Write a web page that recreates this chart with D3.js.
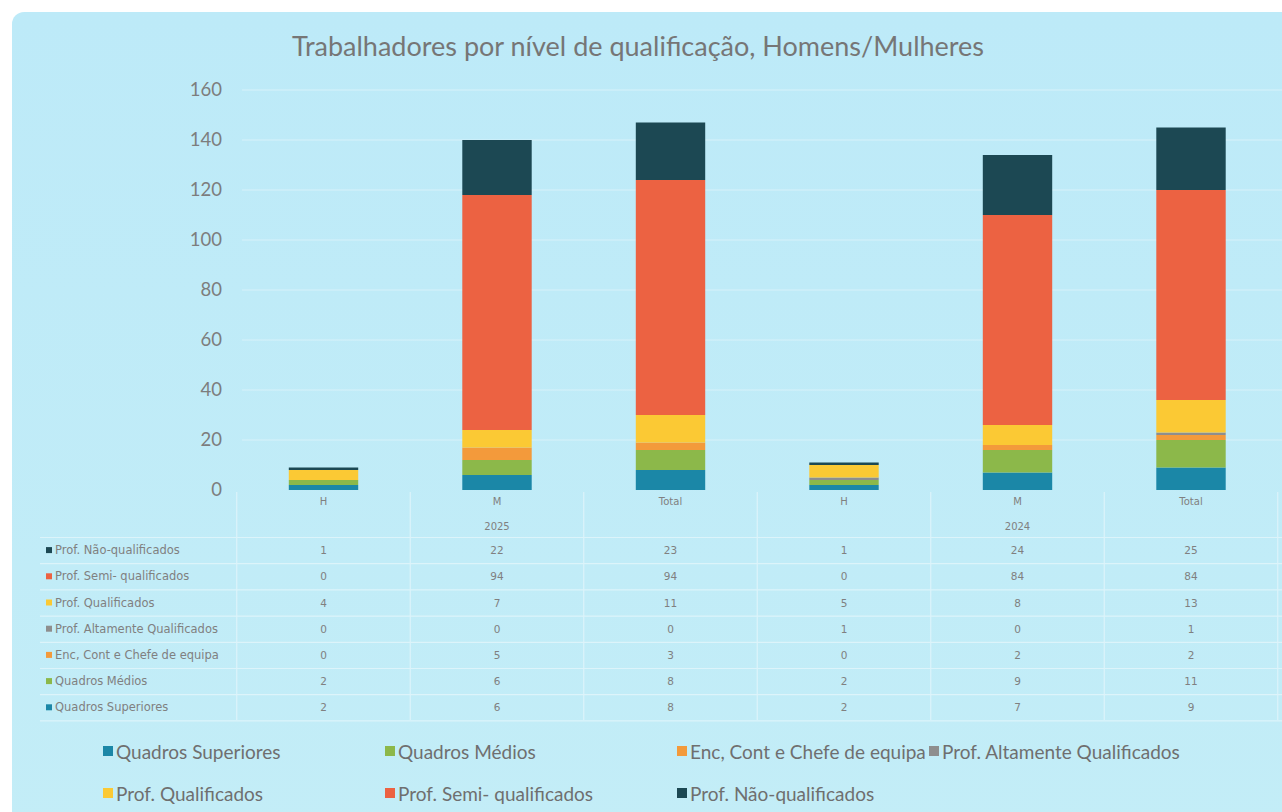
<!DOCTYPE html>
<html><head><meta charset="utf-8">
<script src="https://cdn.jsdelivr.net/npm/d3@7"></script>
<style>html,body{margin:0;padding:0;background:#fff;}svg{display:block;}</style>
</head><body>
<script>
// ---- data ----
const categories = ["H","M","Total","H","M","Total"];
const years = ["2025","2024"];
const seriesNames = ["Quadros Superiores","Quadros Médios","Enc, Cont e Chefe de equipa","Prof. Altamente Qualificados","Prof. Qualificados","Prof. Semi- qualificados","Prof. Não-qualificados"];
const quadrosSuperiores = [2,6,8,2,7,9];
const quadrosMedios     = [2,6,8,2,9,11];
const encCont           = [0,5,3,0,2,2];
const profAltamente     = [0,0,0,1,0,1];
const profQualificados  = [4,7,11,5,8,13];
const profSemi          = [0,94,94,0,84,84];
const profNao           = [1,22,23,1,24,25];
const yTicks = [0,20,40,60,80,100,120,140,160];
const seriesColors = ["#1b87a7","#8cb84a","#f39a3b","#8e8e8e","#fbc934","#ec6242","#1c4853"];

const values = [quadrosSuperiores,quadrosMedios,encCont,profAltamente,profQualificados,profSemi,profNao];
const keys = categories.map((c,i)=> (i<3?years[0]:years[1]) + "-" + c + i);
const rows = keys.map((k,i)=>{const o={key:k}; seriesNames.forEach((s,j)=>o[s]=values[j][i]); return o;});

const W=1282,H=812;
const FONT="Lato, 'Open Sans', sans-serif";
const svg=d3.select("body").append("svg").attr("width",W).attr("height",H);
const defs=svg.append("defs");
const g1=defs.append("linearGradient").attr("id","bg").attr("x1",0).attr("y1",0).attr("x2",0).attr("y2",1);
g1.append("stop").attr("offset","0").attr("stop-color","#bdeaf8");
g1.append("stop").attr("offset","1").attr("stop-color","#c3edf7");
svg.append("rect").attr("x",12).attr("y",12).attr("width",W+20).attr("height",H+20).attr("rx",12).attr("fill","url(#bg)");

const x=d3.scaleBand().domain(keys).range([236.75,1277.75]).paddingInner(0.6).paddingOuter(0.3);
const y=d3.scaleLinear().domain([0,160]).range([490,90]);

// title
svg.append("text").attr("x",638).attr("y",56).attr("text-anchor","middle")
  .attr("font-family",FONT).attr("font-size",27).attr("fill","#767676")
  .text("Trabalhadores por nível de qualificação, Homens/Mulheres");

// gridlines
svg.append("g").selectAll("line").data(yTicks.filter(t=>t>0)).join("line")
  .attr("x1",242).attr("x2",W).attr("y1",d=>y(d)).attr("y2",d=>y(d))
  .attr("stroke","#e4f6fb").attr("stroke-width",1.2).attr("opacity",0.7);

// y axis
const ya=svg.append("g").attr("transform","translate(222,0)")
  .call(d3.axisLeft(y).tickValues(yTicks).tickSize(0).tickPadding(0));
ya.select(".domain").remove();
ya.selectAll("text").attr("font-family",FONT).attr("font-size",18.5).attr("fill","#7d7d7d");

// bars
const stack=d3.stack().keys(seriesNames)(rows);
svg.append("g").selectAll("g").data(stack).join("g").attr("fill",(d,i)=>seriesColors[i])
  .selectAll("rect").data(d=>d).join("rect")
  .attr("x",d=>x(d.data.key)).attr("width",x.bandwidth())
  .attr("y",d=>y(d[1])).attr("height",d=>Math.max(0,y(d[0])-y(d[1])));

// x axis category labels
const xa=svg.append("g").attr("transform","translate(0,498)")
  .call(d3.axisBottom(x).tickSize(0).tickPadding(0).tickFormat((d,i)=>categories[i]));
xa.select(".domain").remove();
xa.selectAll("text").attr("font-family","'DejaVu Sans', sans-serif").attr("font-size",10).attr("fill","#808080");

// year labels
const step=x.step();
years.forEach((yr,gi)=>{
  svg.append("text").attr("x",x(keys[gi*3+1])+x.bandwidth()/2).attr("y",530).attr("text-anchor","middle")
    .attr("font-family","'DejaVu Sans', sans-serif").attr("font-size",10).attr("fill","#808080").text(yr);
});

// table grid
const colEdges=d3.range(7).map(i=>236.75+i*step);
const tg=svg.append("g").attr("stroke","#e6f7fc").attr("stroke-width",1.2).attr("opacity",0.75);
colEdges.forEach(cx=>{
  tg.append("line").attr("x1",cx).attr("x2",cx).attr("y1",492).attr("y2",720);
});
const rowY0=537.5, rowH=26.2;
d3.range(8).forEach(r=>{
  tg.append("line").attr("x1",40).attr("x2",W).attr("y1",rowY0+r*rowH).attr("y2",rowY0+r*rowH);
});

// table rows (top = Não-qualificados)
const order=d3.range(seriesNames.length).reverse();
order.forEach((si,r)=>{
  const cy=rowY0+r*rowH+rowH/2+3.5;
  svg.append("rect").attr("x",46).attr("y",cy-7).attr("width",6).attr("height",6).attr("fill",seriesColors[si]);
  svg.append("text").attr("x",55).attr("y",cy).attr("font-family","'DejaVu Sans', sans-serif").attr("font-size",11.5)
    .attr("fill","#808080").text(seriesNames[si]);
  values[si].forEach((v,ci)=>{
    svg.append("text").attr("x",x(keys[ci])+x.bandwidth()/2).attr("y",cy).attr("text-anchor","middle")
      .attr("font-family","'DejaVu Sans', sans-serif").attr("font-size",10.5).attr("fill","#808080").text(v);
  });
});

// legend
const legPos=[[103,759],[385,759],[677,759],[929,759],[103,801],[385,801],[677,801]];
const lg=svg.append("g");
seriesNames.forEach((s,i)=>{
  const [lx,ly]=legPos[i];
  lg.append("rect").attr("x",lx).attr("y",ly-13).attr("width",10).attr("height",10).attr("fill",seriesColors[i]);
  lg.append("text").attr("x",lx+13).attr("y",ly).attr("font-family",FONT).attr("font-size",19)
    .attr("fill","#6f6f6f").text(s);
});
</script>
</body></html>
